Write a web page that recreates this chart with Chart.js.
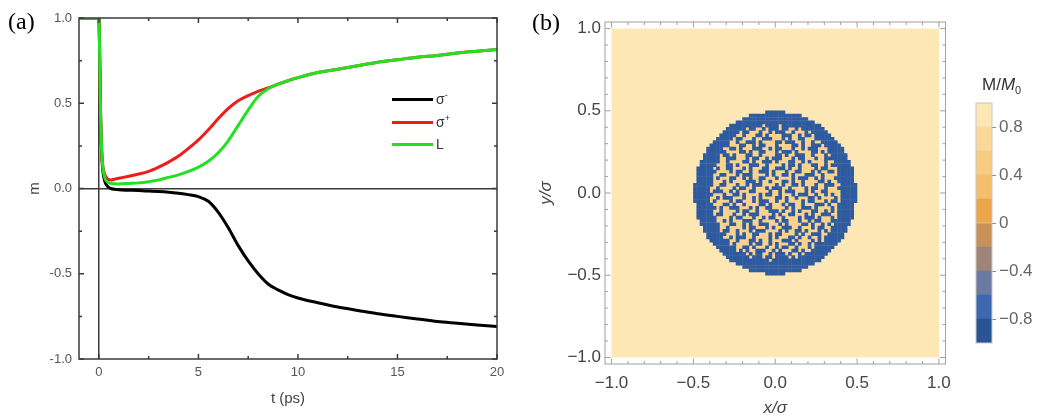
<!DOCTYPE html>
<html>
<head>
<meta charset="utf-8">
<title>Magnetization dynamics</title>
<script src="https://cdn.jsdelivr.net/npm/chart.js@4.4.1/dist/chart.umd.min.js"></script>
<style>
  body { margin: 0; width: 1043px; height: 419px; position: relative; background: #fff; overflow: hidden; }
  canvas { position: absolute; top: 0; }
  .txt { position: absolute; font-family: "Liberation Sans", Arial, sans-serif; white-space: nowrap; line-height: 1; }
  .serif { font-family: "Liberation Serif", "Times New Roman", serif; color: #000; }
  .legend-row { position: absolute; height: 18px; display: flex; align-items: center; }
  .legend-line { display: inline-block; width: 41px; height: 3px; }
  .legend-text { margin-left: 3px; font: 14px "Liberation Sans", Arial, sans-serif; color: #333; }
  .legend-text sup { font-size: 9px; vertical-align: 6px; line-height: 0; }
</style>
</head>
<body>
<canvas id="chartA" width="511" height="419" style="left:0"></canvas>
<canvas id="chartB" width="450" height="419" style="left:510px"></canvas>
<canvas id="chartC" width="83" height="419" style="left:960px"></canvas>

<div class="txt serif" style="left:8px; top:9px; font-size:24px;">(a)</div>
<div class="txt serif" style="left:532px; top:10px; font-size:24px;">(b)</div>

<div class="legend-row" style="left:392px; top:90px;"><span class="legend-line" style="background:#000"></span><span class="legend-text">σ<sup>-</sup></span></div>
<div class="legend-row" style="left:392px; top:113px;"><span class="legend-line" style="background:#ee1c1c"></span><span class="legend-text">σ<sup>+</sup></span></div>
<div class="legend-row" style="left:392px; top:135px;"><span class="legend-line" style="background:#22e022"></span><span class="legend-text">L</span></div>

<div class="txt" style="left:982px; top:76px; font-size:17px; color:#333;">M/<i>M</i><sub style="font-size:11px;">0</sub></div>

<script>
// ---------------------------------------------------------------
// Panel (a): magnetization m(t) for the three pulse polarizations
// Panel (b): M/M0 map after the pulse, with its colour bar
// ---------------------------------------------------------------

Chart.defaults.font.family = "'Liberation Sans', Arial, sans-serif";

// ---- panel (a) data ----
const timePs = [-1, -0.5, 0, 0.03, 0.06, 0.1, 0.15, 0.2, 0.3, 0.45, 0.6, 0.8,
  1, 1.5, 2, 2.5, 3, 3.5, 4, 4.5, 5, 5.5, 6, 6.5, 7, 7.5, 8, 8.5, 9, 9.5, 10,
  11, 12, 13, 14, 15, 16, 17, 18, 19, 20];

const mSigmaMinus = [1, 1, 1, 0.85, 0.58, 0.33, 0.18, 0.1, 0.04, 0.01, 0, -0.005,
  -0.008, -0.01, -0.012, -0.015, -0.018, -0.022, -0.028, -0.036, -0.048, -0.075,
  -0.14, -0.23, -0.335, -0.425, -0.5, -0.56, -0.595, -0.622, -0.642,
  -0.67, -0.695, -0.715, -0.735, -0.75, -0.765, -0.78, -0.79, -0.8, -0.81];

const mSigmaPlus = [1, 1, 1, 0.85, 0.58, 0.35, 0.2, 0.13, 0.08, 0.055, 0.05, 0.055,
  0.06, 0.072, 0.085, 0.1, 0.125, 0.155, 0.19, 0.235, 0.285, 0.345,
  0.41, 0.47, 0.515, 0.545, 0.57, 0.59, 0.612, 0.632, 0.65,
  0.68, 0.7, 0.72, 0.74, 0.755, 0.77, 0.78, 0.795, 0.805, 0.815];

const mLinear = [1, 1, 1, 0.85, 0.58, 0.35, 0.2, 0.12, 0.06, 0.037, 0.03, 0.028,
  0.027, 0.03, 0.033, 0.04, 0.05, 0.065, 0.08, 0.1, 0.125, 0.16,
  0.21, 0.28, 0.37, 0.46, 0.54, 0.585, 0.612, 0.632, 0.65,
  0.68, 0.7, 0.72, 0.74, 0.755, 0.77, 0.78, 0.795, 0.805, 0.815];

const timeTicks = [0, 5, 10, 15, 20];
const timeMinorTicks = [2.5, 7.5, 12.5, 17.5];
const mTicks = [-1, -0.5, 0, 0.5, 1];
const mMinorTicks = [-0.75, -0.25, 0.25, 0.75];

// ---- panel (b) data ----
// one string per row of the map (top row first), '#' = M/M0 near -1, 'o' = M/M0 near 0.7
// rows are centred on x = 0; cells outside the strings keep the background value 1
const cellSize = 0.02;
const mapRows = [
  "######",
  "################",
  "####################",
  "########################",
  "##########o####o############",
  "######o##oo#o###o##oo#o#######",
  "#####o##ooo#oo#o###oo#ooo#o#####",
  "#####oo#ooo##o#oooo###oo#o##o#####",
  "#####o##ooo#oo###ooo#o#oo##ooo######",
  "#####oo#oo###o#oooo##o###oo#oo#oo#####",
  "######ooo##oo#o##ooo#oooo##o#oo###o#####",
  "#####oo##o#ooo###oo#o##ooo#oo#o###ooo#####",
  "######oooo##o#oo##ooo#o###o#oooo##o#o#####",
  "#####o##o#ooo##oo#oooo##o#oo###oo#ooo#o#####",
  "#####oo###ooo#o##oo#o###ooo#o##ooo#oo#######",
  "######oo#oooo##o#oo###o#ooo##oo#o#oooo#oo#####",
  "#####ooo##o#ooo###oo#oooo#o##o#ooo##oo#o######",
  "#####o#oo##ooo#o#ooo##oo###o#oo#oooo#o##ooo#####",
  "######oooo#o##oo#oo###o#ooo#oo##ooo#o#oo##o#####",
  "#####oo##ooo#o###oooo#o#oo##o#ooo###oo#oooo#####",
  "#####o#ooo##oo#o#oo##ooo#oooo#o###oo#o#ooo######",
  "#####ooo#o#oooo###o#oo#ooo##o#oo#oooo##o#oo#####",
  "######oo##ooo#oo#o###oooo#o#oo##o#ooo#oo###oo#####",
  "#####oo#oooo#o##oo#ooo#o###oo#oooo#o##oo#ooo######",
  "#####o###oo#o#ooo##oooo#oo#o###ooo#o#oo##oooo#####",
  "######ooo#oo##o#oooo#o##oo#ooo#o###oo#oo#o#oo#####",
  "#####oo#o###ooo#oo#o#oooo##o#oo#ooo##o#oooo#o#####",
  "#####o#oooo#o##ooo#o###oo#oo#oooo#o##ooo#o##o#####",
  "#####ooo##o#oo#oooo##o#ooo#o##oo#ooo###o#oo#####",
  "######o#oo###ooo#o#oo##oooo#o#oo###o#oooo#o#####",
  "#####oo#oooo#o##oo#ooo###o#oo#o#ooo##oo#o#o#####",
  "#####o##ooo#oo#o###oooo#o#oo##ooo#o#oo###oo#####",
  "######oooo#o##ooo#oo#o##oo#oooo#o###o#ooo#o#####",
  "#####oo#o#ooo###oo#oooo#o##ooo#oo#o##ooo######",
  "######ooo##oo#o#oo###ooo#o#oooo##o#oo#o#o#####",
  "#####oo#oooo#o##ooo#o#oo###oo#ooo#o##oo#####",
  "#####o##oo#ooo#o###oooo#o#oo##o#ooo#o#o#####",
  "######ooo#o#oo##ooo#o##oooo#o#oo###oo#####",
  "#####oo#o###oo#oooo#o#ooo##o#oo#oo#o######",
  "######oo#ooo##o#oo#ooo###o#oooo#o#o#####",
  "#####o#oooo#o##oo#o#ooo##o#oo#o#######",
  "######oo##o#ooo#oo#o##oo#ooo#o######",
  "#####o#o#oo###oo#o#ooo##o#oo######",
  "#######o#o##oo#o###o#oo#o#######",
  "#######o###o##o####o#o########",
  "############o###############",
  "########################",
  "####################",
  "################",
  "######"
];
const mapRange = [-1, 1];
const mapTicks = [-1, -0.5, 0, 0.5, 1];
const mapMinorTicks = [-0.9, -0.8, -0.7, -0.6, -0.4, -0.3, -0.2, -0.1,
  0.1, 0.2, 0.3, 0.4, 0.6, 0.7, 0.8, 0.9];

// ---- colour bar ----
const bandEdges = [-1, -0.8, -0.6, -0.4, -0.2, 0, 0.2, 0.4, 0.6, 0.8, 1];
const bandColors = ["#2a5595", "#3d68b0", "#6a7aa0", "#9c8578", "#c9925a",
  "#eba64c", "#f3bf6c", "#f6cb82", "#f9d899", "#fde7b4"];
const colorbarTicks = [0.8, 0.4, 0, -0.4, -0.8];

const blueColor = "#2e5b9f";
const tanColor = "#f9d28e";
const backgroundTan = "#fde7b4";

// Helper: pair up x and y arrays into {x, y} points.
function toPoints(xs, ys) {
  return xs.map((x, i) => ({ x: x, y: ys[i] }));
}

// Helper: "-0.5" written with a real minus sign.
function minusLabel(v, digits) {
  const text = Math.abs(v).toFixed(digits);
  return v < 0 ? "\u2212" + text : text;
}

// Helper: turn the map strings into cell centres.
const blueCells = [];
const tanCells = [];
mapRows.forEach((row, r) => {
  const offset = Math.round((50 - row.length) / 2);
  for (let c = 0; c < row.length; c++) {
    const cell = { x: -0.49 + (offset + c) * cellSize, y: 0.49 - r * cellSize };
    if (row[c] === "#") blueCells.push(cell);
    else tanCells.push(cell);
  }
});

// Square point size that matches one map cell on the current scale.
function cellRadius(ctx) {
  const x = ctx.chart.scales.x;
  const side = Math.abs(x.getPixelForValue(cellSize) - x.getPixelForValue(0));
  return side / Math.SQRT2 + 0.3;
}

function fixedTicks(values) {
  return (scale) => { scale.ticks = values.map((v) => ({ value: v })); };
}

// Plugin: frame around the plot area with inward tick marks on all four sides.
const frameTicks = {
  id: "frameTicks",
  afterDatasetsDraw(chart, args, opts) {
    const { ctx, chartArea: a, scales } = chart;
    ctx.save();
    ctx.strokeStyle = opts.color;
    ctx.lineWidth = opts.lineWidth;
    ctx.strokeRect(a.left, a.top, a.right - a.left, a.bottom - a.top);
    ctx.beginPath();
    const marks = (values, len, axis) => {
      (values || []).forEach((v) => {
        if (axis === "x") {
          const px = scales.x.getPixelForValue(v);
          ctx.moveTo(px, a.bottom); ctx.lineTo(px, a.bottom - len);
          ctx.moveTo(px, a.top); ctx.lineTo(px, a.top + len);
        } else {
          const py = scales.y.getPixelForValue(v);
          ctx.moveTo(a.left, py); ctx.lineTo(a.left + len, py);
          ctx.moveTo(a.right, py); ctx.lineTo(a.right - len, py);
        }
      });
    };
    marks(opts.xMajor, opts.majorLen, "x");
    marks(opts.xMinor, opts.minorLen, "x");
    marks(opts.yMajor, opts.majorLen, "y");
    marks(opts.yMinor, opts.minorLen, "y");
    ctx.stroke();
    ctx.restore();
  }
};

// Plugin: uniform M/M0 = 1 background of the map.
const mapBackground = {
  id: "mapBackground",
  beforeDatasetsDraw(chart, args, opts) {
    const { ctx, scales: { x, y } } = chart;
    const x0 = x.getPixelForValue(opts.range[0]);
    const x1 = x.getPixelForValue(opts.range[1]);
    const y0 = y.getPixelForValue(opts.range[1]);
    const y1 = y.getPixelForValue(opts.range[0]);
    ctx.save();
    ctx.fillStyle = opts.color;
    ctx.fillRect(x0, y0, x1 - x0, y1 - y0);
    ctx.restore();
  }
};

const zeroLine = (ctx) => (ctx.tick && ctx.tick.value === 0 ? "#3a3a3a" : "rgba(0,0,0,0)");

// ---- chart (a) ----
new Chart(document.getElementById("chartA"), {
  type: "line",
  data: {
    datasets: [
      { label: "L", data: toPoints(timePs, mLinear), borderColor: "#22e022", order: 0 },
      { label: "σ+", data: toPoints(timePs, mSigmaPlus), borderColor: "#ee1c1c", order: 1 },
      { label: "σ-", data: toPoints(timePs, mSigmaMinus), borderColor: "#000000", order: 2 }
    ]
  },
  options: {
    responsive: false,
    animation: false,
    events: [],
    elements: {
      point: { radius: 0 },
      line: { borderWidth: 3, cubicInterpolationMode: "monotone", fill: false }
    },
    layout: { padding: { top: 18, right: 14, left: 0, bottom: 0 } },
    scales: {
      x: {
        type: "linear",
        min: -1,
        max: 20,
        afterBuildTicks: fixedTicks(timeTicks),
        afterFit: (s) => { s.height = 60; },
        grid: { display: true, drawTicks: false, color: zeroLine, lineWidth: 1.5 },
        border: { display: false },
        ticks: { autoSkip: false, maxRotation: 0, padding: 6, color: "#555", font: { size: 13 }, callback: (v) => String(v) },
        title: { display: true, text: "t (ps)", color: "#444", font: { size: 15 }, padding: { bottom: 11 } }
      },
      y: {
        type: "linear",
        min: -1,
        max: 1,
        afterBuildTicks: fixedTicks(mTicks),
        afterFit: (s) => { s.width = 79; },
        grid: { display: true, drawTicks: false, color: zeroLine, lineWidth: 1.5 },
        border: { display: false },
        ticks: { autoSkip: false, padding: 7, color: "#555", font: { size: 13 }, callback: (v) => v.toFixed(1) },
        title: { display: true, text: "m", color: "#444", font: { size: 15 }, padding: { top: 26 } }
      }
    },
    plugins: {
      legend: { display: false },
      tooltip: { enabled: false },
      frameTicks: {
        color: "#3a3a3a", lineWidth: 1.5, majorLen: 5, minorLen: 3,
        xMajor: timeTicks, xMinor: timeMinorTicks, yMajor: mTicks, yMinor: mMinorTicks
      }
    }
  },
  plugins: [frameTicks]
});

// ---- chart (b) ----
new Chart(document.getElementById("chartB"), {
  type: "scatter",
  data: {
    datasets: [
      { label: "M/M0 = -1", data: blueCells, backgroundColor: blueColor, pointStyle: "rect", pointRadius: cellRadius, borderWidth: 0 },
      { label: "M/M0 = 0.7", data: tanCells, backgroundColor: tanColor, pointStyle: "rect", pointRadius: cellRadius, borderWidth: 0 }
    ]
  },
  options: {
    responsive: false,
    animation: false,
    events: [],
    layout: { padding: { top: 22, right: 14, left: 0, bottom: 0 } },
    scales: {
      x: {
        type: "linear",
        min: -1.04,
        max: 1.04,
        afterBuildTicks: fixedTicks(mapTicks),
        afterFit: (s) => { s.height = 55; },
        grid: { display: false, drawTicks: false },
        border: { display: false },
        ticks: { autoSkip: false, maxRotation: 0, padding: 9, color: "#444", font: { size: 17 }, callback: (v) => minusLabel(v, 1) },
        title: { display: true, text: "x/σ", color: "#444", font: { size: 17, style: "italic" }, padding: { bottom: 1 } }
      },
      y: {
        type: "linear",
        min: -1.04,
        max: 1.04,
        afterBuildTicks: fixedTicks(mapTicks),
        afterFit: (s) => { s.width = 95; },
        grid: { display: false, drawTicks: false },
        border: { display: false },
        ticks: { autoSkip: false, padding: 4, color: "#444", font: { size: 17 }, callback: (v) => minusLabel(v, 1) },
        title: { display: true, text: "y/σ", color: "#444", font: { size: 17, style: "italic" }, padding: { top: 26 } }
      }
    },
    plugins: {
      legend: { display: false },
      tooltip: { enabled: false },
      mapBackground: { range: mapRange, color: backgroundTan },
      frameTicks: {
        color: "#a0a0a0", lineWidth: 1, majorLen: 5.5, minorLen: 3,
        xMajor: mapTicks, xMinor: mapMinorTicks, yMajor: mapTicks, yMinor: mapMinorTicks
      }
    }
  },
  plugins: [mapBackground, frameTicks]
});

// ---- colour bar ----
new Chart(document.getElementById("chartC"), {
  type: "bar",
  data: {
    labels: ["M/M0"],
    datasets: bandColors.map((color, i) => ({
      label: minusLabel(bandEdges[i], 1),
      data: [[bandEdges[i], bandEdges[i + 1]]],
      backgroundColor: color,
      borderWidth: 0,
      grouped: false,
      barPercentage: 1,
      categoryPercentage: 1
    }))
  },
  options: {
    responsive: false,
    animation: false,
    events: [],
    layout: { padding: { top: 103, left: 16, right: 0, bottom: 76 } },
    scales: {
      x: { display: false },
      y: {
        position: "right",
        min: -1,
        max: 1,
        afterBuildTicks: fixedTicks(colorbarTicks),
        afterFit: (s) => { s.width = 51; },
        grid: { display: true, drawOnChartArea: false, drawTicks: true, tickLength: 4, color: "#888" },
        border: { display: false },
        ticks: { autoSkip: false, padding: 3, color: "#666", font: { size: 17 }, callback: (v) => (v === 0 ? "0" : minusLabel(v, 1)) }
      }
    },
    plugins: {
      legend: { display: false },
      tooltip: { enabled: false },
      frameTicks: { color: "#c8c8c8", lineWidth: 1, majorLen: 0, minorLen: 0 }
    }
  },
  plugins: [frameTicks]
});
</script>
</body>
</html>
